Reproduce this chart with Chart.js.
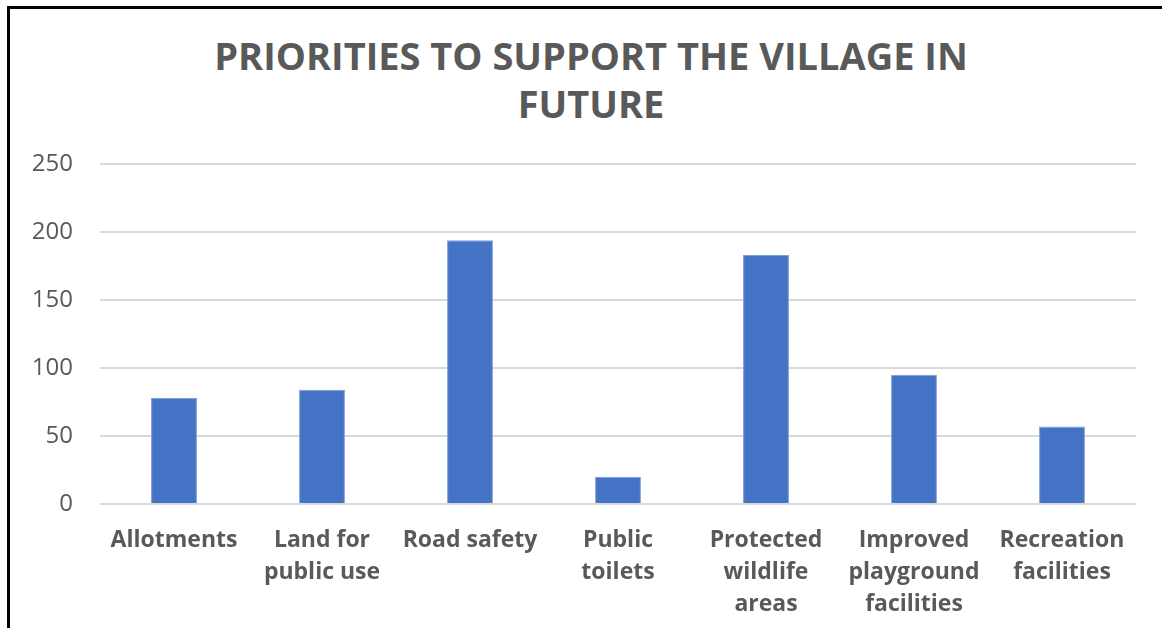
<!DOCTYPE html>
<html lang="en">
<head>
  <meta charset="UTF-8" />
  <title>Priorities to support the village in future</title>
  <script src="https://cdn.jsdelivr.net/npm/chart.js"></script>
  <style>
    html, body {
      margin: 0;
      padding: 0;
      background: #fff;
      overflow: hidden;
    }
    .frame {
      position: absolute;
      left: 7px;
      top: 6px;
      width: 1200px;
      height: 700px;
      border-top: 3px solid #000;
      border-left: 3px solid #000;
    }
    .title {
      position: absolute;
      left: 191px;
      width: 800px;
      top: 31px;
      text-align: center;
      font-family: 'Open Sans', sans-serif;
      font-weight: bold;
      font-size: 38px;
      line-height: 48px;
      color: #595959;
    }
    #wrap {
      position: absolute;
      left: 0;
      top: 0;
      width: 1162px;
      height: 628px;
    }
  </style>
</head>
<body>
  <div class="frame"></div>
  <div class="title">PRIORITIES TO SUPPORT THE VILLAGE IN<br>FUTURE</div>
  <div id="wrap"><canvas id="chart"></canvas></div>

  <script>
    const categories = [
      'Allotments',
      ['Land for', 'public use'],
      'Road safety',
      ['Public', 'toilets'],
      ['Protected', 'wildlife', 'areas'],
      ['Improved', 'playground', 'facilities'],
      ['Recreation', 'facilities']
    ];
    const responses = [78, 84, 194, 20, 183, 95, 57];
    const yTicks = [0, 50, 100, 150, 200, 250];

    const grey = '#595959';

    new Chart(document.getElementById('chart'), {
      type: 'bar',
      data: {
        labels: categories,
        datasets: [{
          label: 'Responses',
          data: responses,
          backgroundColor: '#4472C4',
          borderColor: '#7f9fd8',
          borderWidth: 1,
          barPercentage: 0.31,
          categoryPercentage: 1
        }]
      },
      options: {
        responsive: true,
        maintainAspectRatio: false,
        animation: false,
        layout: {
          padding: { left: 28, right: 26, top: 164, bottom: 0 }
        },
        plugins: {
          legend: { display: false },
          title: { display: false },
          tooltip: { enabled: false }
        },
        scales: {
          x: {
            grid: { display: false },
            border: { display: false },
            afterFit: (s) => { s.height = 124; },
            ticks: {
              color: grey,
              maxRotation: 0,
              autoSkip: false,
              padding: 12,
              font: { family: 'Open Sans', weight: 'bold', size: 23, lineHeight: 1.4 }
            }
          },
          y: {
            min: 0,
            max: 250,
            afterFit: (s) => { s.width = 72; },
            afterBuildTicks: (s) => { s.ticks = yTicks.map(v => ({ value: v })); },
            border: { display: false },
            grid: { color: '#d9d9d9', lineWidth: 2, drawTicks: false },
            ticks: {
              color: grey,
              padding: 27,
              font: { family: 'Open Sans', size: 24 }
            }
          }
        }
      }
    });
  </script>
</body>
</html>
